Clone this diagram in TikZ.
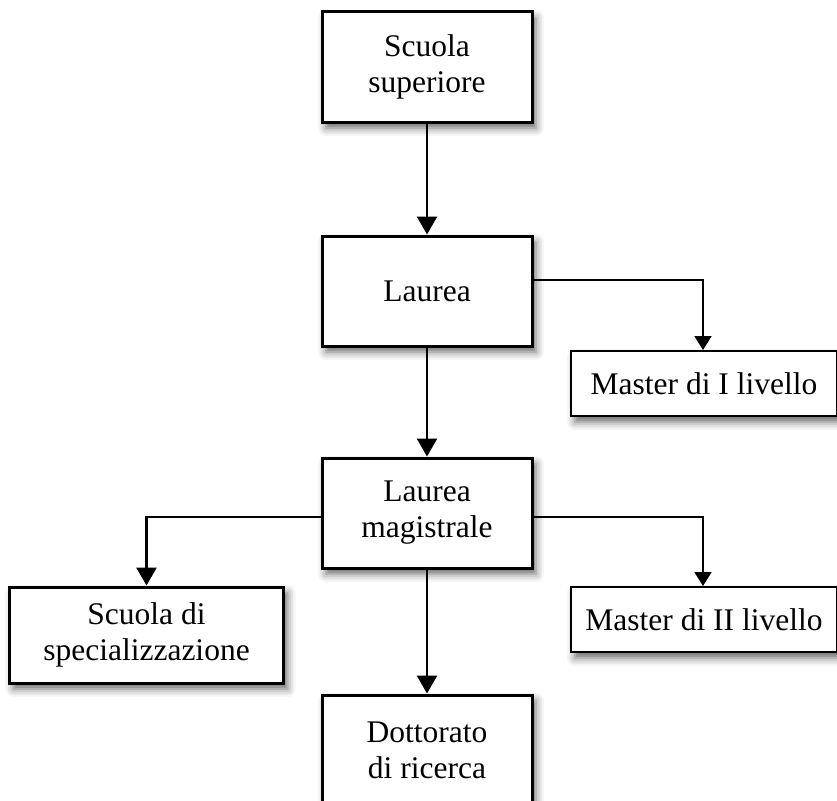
\documentclass[tikz,border=0pt]{standalone}
\usepackage{fontspec}
\setmainfont{Liberation Serif}
\usetikzlibrary{arrows.meta,shadows.blur}
\tikzset{
  boxshadow/.style={blur shadow={shadow xshift=4bp, shadow yshift=-6bp, shadow blur radius=8bp, shadow opacity=60}},
  mainbox/.style={draw=black, line width=3bp, fill=white, rectangle, align=center, inner sep=0pt, boxshadow,
    font=\fontsize{31.5bp}{36bp}\selectfont},
  sidebox/.style={draw=black, line width=2bp, fill=white, rectangle, align=center, inner sep=0pt, boxshadow,
    font=\fontsize{31.5bp}{36bp}\selectfont},
  mainarrow/.style={line width=2.5bp, -{Triangle[length=18bp,width=20bp]}},
  sidearrow/.style={line width=1.8bp, -{Triangle[length=14bp,width=17bp]}},
}
\begin{document}
\begin{tikzpicture}[x=1bp,y=-1bp]
\useasboundingbox (0,0) rectangle (837,801);
\node[mainbox, minimum width=210bp, minimum height=110bp] (ss) at (427,67) {Scuola\\superiore};
\node[mainbox, minimum width=210bp, minimum height=110bp] (l) at (427,291) {Laurea};
\node[mainbox, minimum width=210bp, minimum height=110bp] (lm) at (427,513) {Laurea\\magistrale};
\node[mainbox, minimum width=274bp, minimum height=96bp] (sds) at (146.5,635) {Scuola di\\specializzazione};
\node[mainbox, minimum width=210bp, minimum height=110bp] (dr) at (427,750) {Dottorato\\di ricerca};
\node[sidebox, minimum width=266bp, minimum height=65bp] (m1) at (704,383.5) {Master di I livello};
\node[sidebox, minimum width=266bp, minimum height=65bp] (m2) at (704,619.5) {Master di II livello};

\draw[mainarrow] (ss.south) -- (l.north);
\draw[mainarrow] (l.south) -- (lm.north);
\draw[mainarrow] (lm.south) -- (dr.north);
\draw[sidearrow] ([yshift=11bp]l.east) -| ([xshift=-1bp]m1.north);
\draw[mainarrow] ([yshift=-4bp]lm.west) -| (sds.north);
\draw[sidearrow] ([yshift=-4bp]lm.east) -| ([xshift=-1bp]m2.north);
\end{tikzpicture}
\end{document}
